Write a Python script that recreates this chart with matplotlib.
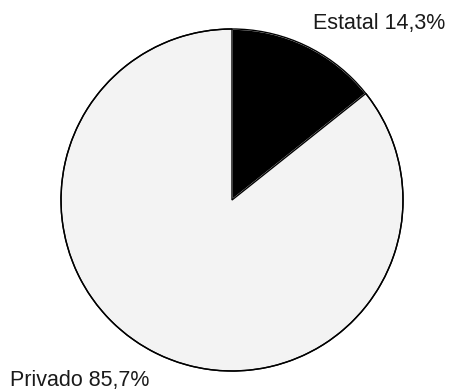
import matplotlib.pyplot as plt

# Sector share
labels = ["Estatal", "Privado"]
values = [14.3, 85.7]
colors = ["black", "#f3f3f3"]

W, H = 449, 391
fig = plt.figure(figsize=(W / 100, H / 100), dpi=100)
ax = fig.add_axes([0, 0, 1, 1])

wedges, _ = ax.pie(values, colors=colors, startangle=90, counterclock=False,
                   center=(232, H - 200), radius=171,
                   wedgeprops=dict(edgecolor="black", linewidth=1.0))
# white seam between the two slices
wedges[0].set_edgecolor("white")
wedges[0].set_linewidth(1.2)
outline = plt.Circle((232, H - 200), 171, fill=False, edgecolor="black", linewidth=1.0)
ax.add_patch(outline)

# pie() resets the limits, so fix them in pixel units afterwards
ax.set_xlim(0, W)
ax.set_ylim(0, H)
ax.set_aspect("equal")
ax.axis("off")

font = dict(family="Liberation Sans", fontsize=15.5, color="#1a1a1a")
ax.text(445, H - 29, f"{labels[0]} {values[0]:.1f}%".replace(".", ","),
        ha="right", va="baseline", **font)
ax.text(10, H - 386, f"{labels[1]} {values[1]:.1f}%".replace(".", ","),
        ha="left", va="baseline", **font)

fig.savefig("out.png", dpi=100)
